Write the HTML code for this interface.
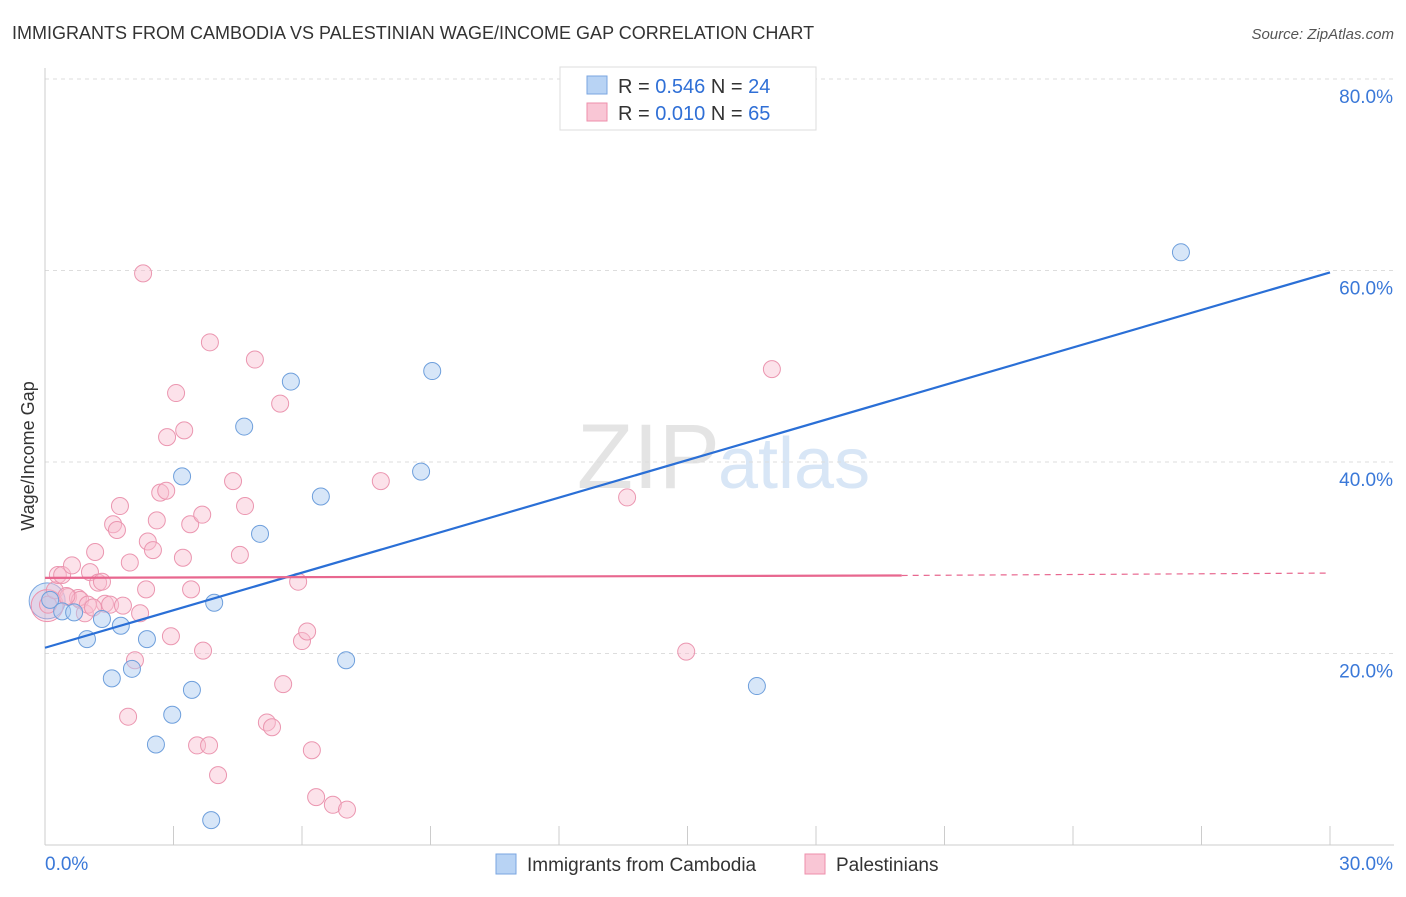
<!DOCTYPE html>
<html><head><meta charset="utf-8"><style>
body{margin:0;background:#fff;font-family:"Liberation Sans",sans-serif;}
svg text{font-family:"Liberation Sans",sans-serif;}
</style></head><body>
<svg id="chart" width="1406" height="892" xmlns="http://www.w3.org/2000/svg">
<text x="12" y="39" font-size="18" fill="#333">IMMIGRANTS FROM CAMBODIA VS PALESTINIAN WAGE/INCOME GAP CORRELATION CHART</text>
<text x="1394" y="39" font-size="15" fill="#555" font-style="italic" text-anchor="end">Source: ZipAtlas.com</text>
<text x="720" y="488" font-size="92" fill="#e4e4e4" text-anchor="end" font-family="Liberation Serif">ZIP</text>
<text x="718" y="488" font-size="72" fill="#d8e6f6">atlas</text>
<g id="grid"></g>
<g id="axes"></g>
<g id="pts"></g>
<g id="lines"></g>
<text transform="translate(34,456) rotate(-90)" font-size="18" fill="#333" text-anchor="middle">Wage/Income Gap</text>
<g>
<rect x="560" y="67" width="256" height="63" fill="#fff" stroke="#ddd"/>
<rect x="587" y="76" width="20" height="18" fill="#b8d3f4" stroke="#7aa6e0"/>
<text x="618" y="93" font-size="20" fill="#333">R = <tspan fill="#2f6fd6">0.546</tspan>   N = <tspan fill="#2f6fd6">24</tspan></text>
<rect x="587" y="103" width="20" height="18" fill="#f9c6d5" stroke="#ee8fab"/>
<text x="618" y="120" font-size="20" fill="#333">R = <tspan fill="#2f6fd6">0.010</tspan>   N = <tspan fill="#2f6fd6">65</tspan></text>
</g>
<g>
<rect x="496" y="854" width="20" height="20" fill="#b8d3f4" stroke="#7aa6e0"/>
<text x="527" y="871" font-size="19" fill="#333">Immigrants from Cambodia</text>
<rect x="805" y="854" width="20" height="20" fill="#f9c6d5" stroke="#ee8fab"/>
<text x="836" y="871" font-size="19" fill="#333">Palestinians</text>
</g>
</svg>
<script>
const yTicks=[20,40,60,80];
const xTickCount=10;
const cambX=[0.12,0.40,0.68,0.98,1.33,1.56,1.77,2.03,2.38,2.59,2.97,3.20,3.43,3.88,3.95,4.65,5.02,5.74,6.44,7.03,8.78,9.04,16.62,26.52];
const cambY=[25.6,24.4,24.3,21.5,23.6,17.4,22.9,18.4,21.5,10.5,13.6,38.5,16.2,2.6,25.3,43.7,32.5,48.4,36.4,19.3,39.0,49.5,16.6,61.9];
const palX=[0.07,0.23,0.30,0.40,0.54,0.63,0.77,0.82,0.93,1.00,1.05,1.17,1.24,1.33,1.40,1.52,1.59,1.68,1.75,1.82,1.94,1.98,2.10,2.22,2.29,2.36,2.40,2.52,2.61,2.69,2.83,2.85,3.06,3.22,3.25,3.39,3.41,3.55,3.67,3.69,3.83,3.85,4.04,4.39,4.55,4.67,4.90,5.18,5.30,5.49,5.56,5.91,6.00,6.12,6.23,6.33,6.72,7.05,7.84,13.59,14.97,16.97,2.94,1.12,0.50];
const palY=[25.1,26.6,28.2,28.2,25.9,29.2,25.8,25.6,24.2,25.1,28.5,30.6,27.4,27.5,25.2,25.1,33.5,32.9,35.4,25.0,13.4,29.5,19.3,24.2,59.7,26.7,31.7,30.8,33.9,36.8,37.0,42.6,47.2,30.0,43.3,33.5,26.7,10.4,34.5,20.3,10.4,52.5,7.3,38.0,30.3,35.4,50.7,12.8,12.3,46.1,16.8,27.5,21.3,22.3,9.9,5.0,4.2,3.7,38.0,36.3,20.2,49.7,21.8,24.8,26.0];
const cambLine=[20.6,59.8];
const palLine=[27.9,28.15,28.4];
const X=v=>45+v*(1285/30);
const Y=v=>845-v*(766/80);
const NS="http://www.w3.org/2000/svg";
function mk(t,a,p){const e=document.createElementNS(NS,t);for(const k in a)e.setAttribute(k,a[k]);p.appendChild(e);return e;}
const grid=document.getElementById('grid'),axes=document.getElementById('axes'),pts=document.getElementById('pts'),lines=document.getElementById('lines');
yTicks.forEach(t=>{
 const l=mk('line',{x1:45,x2:1394,y1:Y(t),y2:Y(t),stroke:'#ddd','stroke-dasharray':'4,4'},grid);
 
 
 const tx=mk('text',{x:1393,y:Y(t)+24,'font-size':19,fill:'#3a78d8','text-anchor':'end'},grid);
 tx.textContent=t.toFixed(1)+'%';
 
 
});
const ax=mk('line',{x1:45,x2:45,y1:68,y2:845,stroke:'#ccc'},axes);


const bx=mk('line',{x1:45,x2:1394,y1:845,y2:845,stroke:'#ccc'},axes);


for(let i=1;i<=xTickCount;i++){const v=i*3;const t=mk('line',{x1:X(v),x2:X(v),y1:826,y2:845,stroke:'#ccc'},axes);
 
 }
[[0,'0.0%','start',45],[30,'30.0%','end',1393]].forEach(d=>{const t=mk('text',{x:d[3],y:870,'font-size':19,fill:'#3a78d8','text-anchor':d[2]},axes);t.textContent=d[1];
 
 });
const b1=mk('circle',{cx:X(0.05),cy:Y(25.5),r:18,fill:'rgba(150,185,235,0.35)',stroke:'#7aa6e0'},pts);


const b2=mk('circle',{cx:X(0.05),cy:Y(25),r:16,fill:'rgba(245,170,195,0.3)',stroke:'#ee8fab'},pts);


palX.forEach((x,i)=>{const c=mk('circle',{cx:X(x),cy:Y(palY[i]),r:8.5,fill:'rgba(248,190,208,0.45)',stroke:'#eb96b0','stroke-width':1},pts);
 
 });
cambX.forEach((x,i)=>{const c=mk('circle',{cx:X(x),cy:Y(cambY[i]),r:8.5,fill:'rgba(175,205,242,0.5)',stroke:'#6e9fdc','stroke-width':1},pts);
 
 });
const l1=mk('line',{x1:X(0),y1:Y(cambLine[0]),x2:X(30),y2:Y(cambLine[1]),stroke:'#2a6fd6','stroke-width':2.2},lines);


const l2=mk('line',{x1:X(0),y1:Y(palLine[0]),x2:X(20),y2:Y(palLine[1]),stroke:'#e8678f','stroke-width':2.2},lines);


const l3=mk('line',{x1:X(20),y1:Y(palLine[1]),x2:X(30),y2:Y(palLine[2]),stroke:'#e8678f','stroke-width':1.2,'stroke-dasharray':'6,5'},lines);


</script>
</body></html>
